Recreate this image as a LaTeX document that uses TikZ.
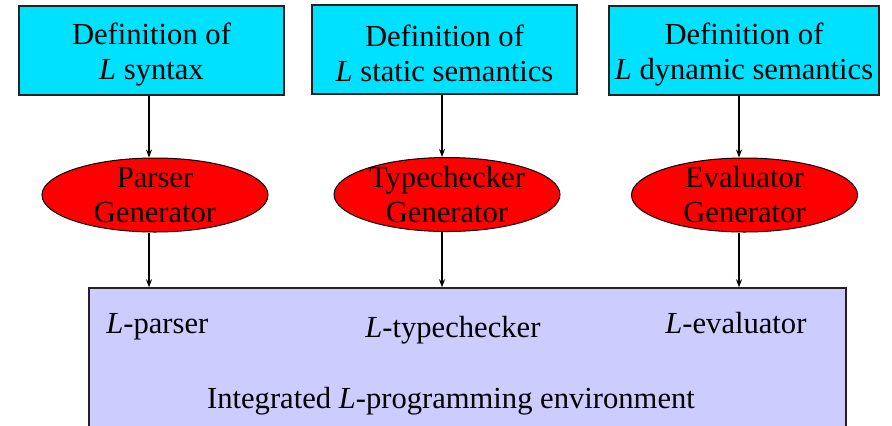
\documentclass[tikz,border=0pt]{standalone}
\usepackage{fontspec}
\setmainfont{Liberation Serif}
\usetikzlibrary{shapes.geometric,arrows.meta}
\definecolor{specfill}{RGB}{0,224,255}
\definecolor{genfill}{RGB}{255,0,0}
\definecolor{envfill}{RGB}{204,204,255}
\definecolor{edge}{RGB}{34,34,34}
% a taller first line lowers the two-line text inside the boxes a little
\newcommand{\firstline}{\rule{0pt}{14.4pt}}
\tikzset{
  txt/.style={font=\fontsize{15.3pt}{17.5pt}\selectfont, inner sep=0pt},
  specbox/.style={draw=edge, line width=0.75pt, fill=specfill, rectangle,
    inner sep=0pt, minimum height=44.5pt, align=center, txt},
  genoval/.style={draw=black, line width=0.5pt, fill=genfill, ellipse,
    inner sep=0pt, minimum width=113pt, minimum height=37pt},
  envbox/.style={draw=edge, line width=0.75pt, fill=envfill, rectangle, inner sep=0pt},
  arr/.style={draw=black, line width=0.6pt, -{Stealth[length=4pt,width=3pt]}}
}
\begin{document}
\begin{tikzpicture}[x=0.5pt,y=-0.5pt]
  \clip (0,0) rectangle (892,425);
  \fill[white] (0,0) rectangle (892,425);

  % specification boxes
  \node[specbox, minimum width=132.5pt] (syn) at (151.5,50.5)
    {\firstline Definition of\\\textit{L} syntax};
  \node[specbox, minimum width=132.5pt] (sta) at (444.5,49.5)
    {\firstline Definition of\\\textit{L} static semantics};
  \node[specbox, minimum width=135pt] (dyn) at (744,50.5)
    {\firstline Definition of\\\textit{L} dynamic semantics};

  % generators
  \node[genoval] (pg) at (155,195) {};
  \node[txt, align=center] (pgt) at (pg) {Parser\\Generator};
  \node[genoval] (tg) at (447,194.5) {};
  \node[txt, align=center] (tgt) at (tg) {Typechecker\\Generator};
  \node[genoval] (eg) at (744.5,195) {};
  \node[txt, align=center] (egt) at (eg) {Evaluator\\Generator};

  % integrated environment
  \node[envbox, minimum width=378.5pt, minimum height=80pt] (env) at (467.5,368) {};
  \node[txt, anchor=base west] (lp) at (106,333) {\textit{L}-parser};
  \node[txt, anchor=base west] (lt) at (365,337) {\textit{L}-typechecker};
  \node[txt, anchor=base west] (le) at (665,333) {\textit{L}-evaluator};
  \node[txt, anchor=base] (ie) at (451,408) {Integrated \textit{L}-programming environment};

  % connector columns
  \coordinate (c1) at (149,0);
  \coordinate (c2) at (442,0);
  \coordinate (c3) at (739,0);

  \draw[arr] (syn.south -| c1) -- (pg.north -| c1);
  \draw[arr] (sta.south -| c2) -- (tg.north -| c2);
  \draw[arr] (dyn.south -| c3) -- (eg.north -| c3);
  \draw[arr] (pg.south -| c1) -- (env.north -| c1);
  \draw[arr] (tg.south -| c2) -- (env.north -| c2);
  \draw[arr] (eg.south -| c3) -- (env.north -| c3);
\end{tikzpicture}
\end{document}
